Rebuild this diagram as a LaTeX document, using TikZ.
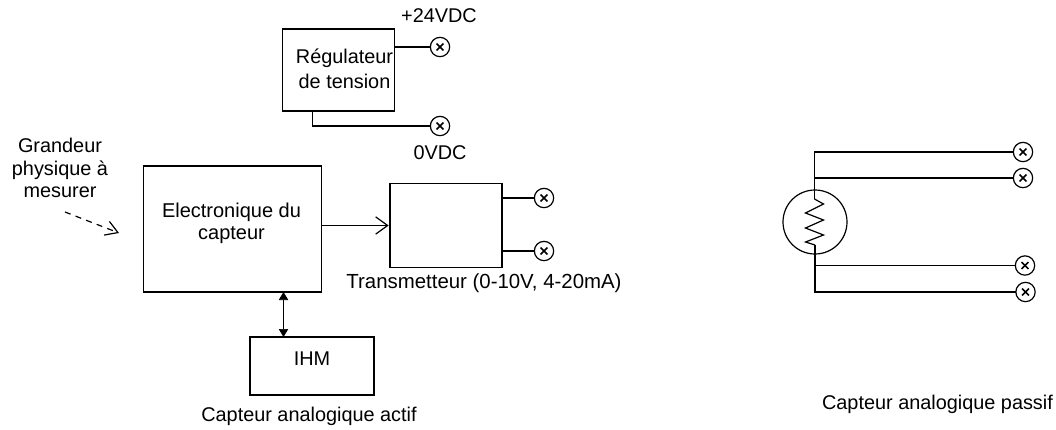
\documentclass[tikz,border=0pt]{standalone}
\usepackage{fontspec}
\setmainfont{Liberation Sans}
\usetikzlibrary{arrows.meta,positioning,calc}
\tikzset{
	boxnode/.style={draw, line width=0.9pt, inner sep=0pt, outer sep=0pt},
	txt/.style={inner sep=0pt, align=center, font=\fontsize{14.9}{16.5}\selectfont},
	borne/.style={draw, circle, line width=0.9pt, minimum size=14.5pt, inner sep=0pt, outer sep=0pt,
		path picture={\draw[line width=1.1pt] ([shift={(-2.6pt,-2.6pt)}]path picture bounding box.center) -- ([shift={(2.6pt,2.6pt)}]path picture bounding box.center);
			\draw[line width=1.1pt] ([shift={(-2.6pt,2.6pt)}]path picture bounding box.center) -- ([shift={(2.6pt,-2.6pt)}]path picture bounding box.center);}},
	fil/.style={line width=0.9pt}
}
\begin{document}
\begin{tikzpicture}[x=0.75pt, y=-0.75pt, >=Stealth]
	\useasboundingbox (0,0) rectangle (1056,429);
	% capteur actif
	\node[boxnode, minimum width=84.5pt, minimum height=61.5pt] (reg) at (338.5,70) {};
	\node[txt, font=\fontsize{14.9}{19}\selectfont] (regtxt) at (344.5,68.5) {Régulateur\\de tension};
	\node[boxnode, minimum width=134pt, minimum height=94.5pt] (elec) at (232.5,229) {};
	\node[txt, font=\fontsize{15}{16.5}\selectfont] (electxt) at (231.5,223) {Electronique du\\capteur};
	\node[boxnode, minimum width=84pt, minimum height=62.5pt] (trans) at (446,225.5) {};
	\node[boxnode, minimum width=93pt, minimum height=43.5pt] (ihm) at (312,366) {};
	\node[txt] (ihmtxt) at (312,359) {IHM};
	\node[borne] (vplus) at (440,47) {};
	\node[borne] (vzero) at (440,126) {};
	\node[borne] (sortA) at (544,198) {};
	\node[borne] (sortB) at (544,251) {};
	\node[txt] (lplus) at (439,16) {+24VDC};
	\node[txt] (lzero) at (440,153) {0VDC};
	\node[txt, font=\fontsize{14.9}{17}\selectfont] (grandeur) at (60,168) {Grandeur\\physique à\\mesurer};
	\node[txt, font=\fontsize{15.3}{17}\selectfont] (ltrans) at (484,283) {Transmetteur (0-10V, 4-20mA)};
	\node[txt] (lactif) at (309,416) {Capteur analogique actif};
	\draw[fil] (reg.east |- vplus) -- (vplus);
	\draw[fil] ([xshift=-19.5pt]reg.south) |- (vzero);
	\draw[fil] (trans.east |- sortA) -- (sortA);
	\draw[fil] (trans.east |- sortB) -- (sortB);
	\draw[fil, -{Straight Barb[length=9pt, width=13pt, line width=0.9pt]}] (elec.east |- trans.west) -- ([xshift=-1pt]trans.west);
	\coordinate (ihmx) at (283.5,0);
	\draw[line width=0.5pt, {Triangle[length=6pt, width=7pt]}-{Triangle[length=6pt, width=7pt]}] (ihmx |- elec.south) -- (ihmx |- ihm.north);
	\coordinate (dashA) at (65,212);
	\coordinate (dashB) at (119,233);
	\draw[fil, dashed, dash pattern=on 4.5pt off 4pt, -{Straight Barb[length=9pt, width=11pt, line width=0.9pt]}] (dashA) -- (dashB);
	% capteur passif
	\node[draw, circle, line width=0.9pt, minimum size=48pt, inner sep=0pt, outer sep=0pt] (sonde) at (815,222) {};
	\node[borne] (pA) at (1023,152) {};
	\node[borne] (pB) at (1023,178) {};
	\node[borne] (pC) at (1025,265.5) {};
	\node[borne] (pD) at (1025.5,292) {};
	\coordinate (resH) at (814.5,199);
	\coordinate (resB) at (815,245);
	\draw[fil] (resH) -- (823.5,204) -- (805.5,213) -- (823.5,220) -- (805.5,228) -- (823.5,235) -- (805.5,242) -- (resB);
	\draw[fil] (resH) |- (pA);
	\draw[fil] (resH |- pB) -- (pB);
	\draw[fil] (resB) |- (pD);
	\draw[fil] (resB |- pC) -- (pC);
	\node[txt] (lpassif) at (937.5,404) {Capteur analogique passif};
\end{tikzpicture}
\end{document}
